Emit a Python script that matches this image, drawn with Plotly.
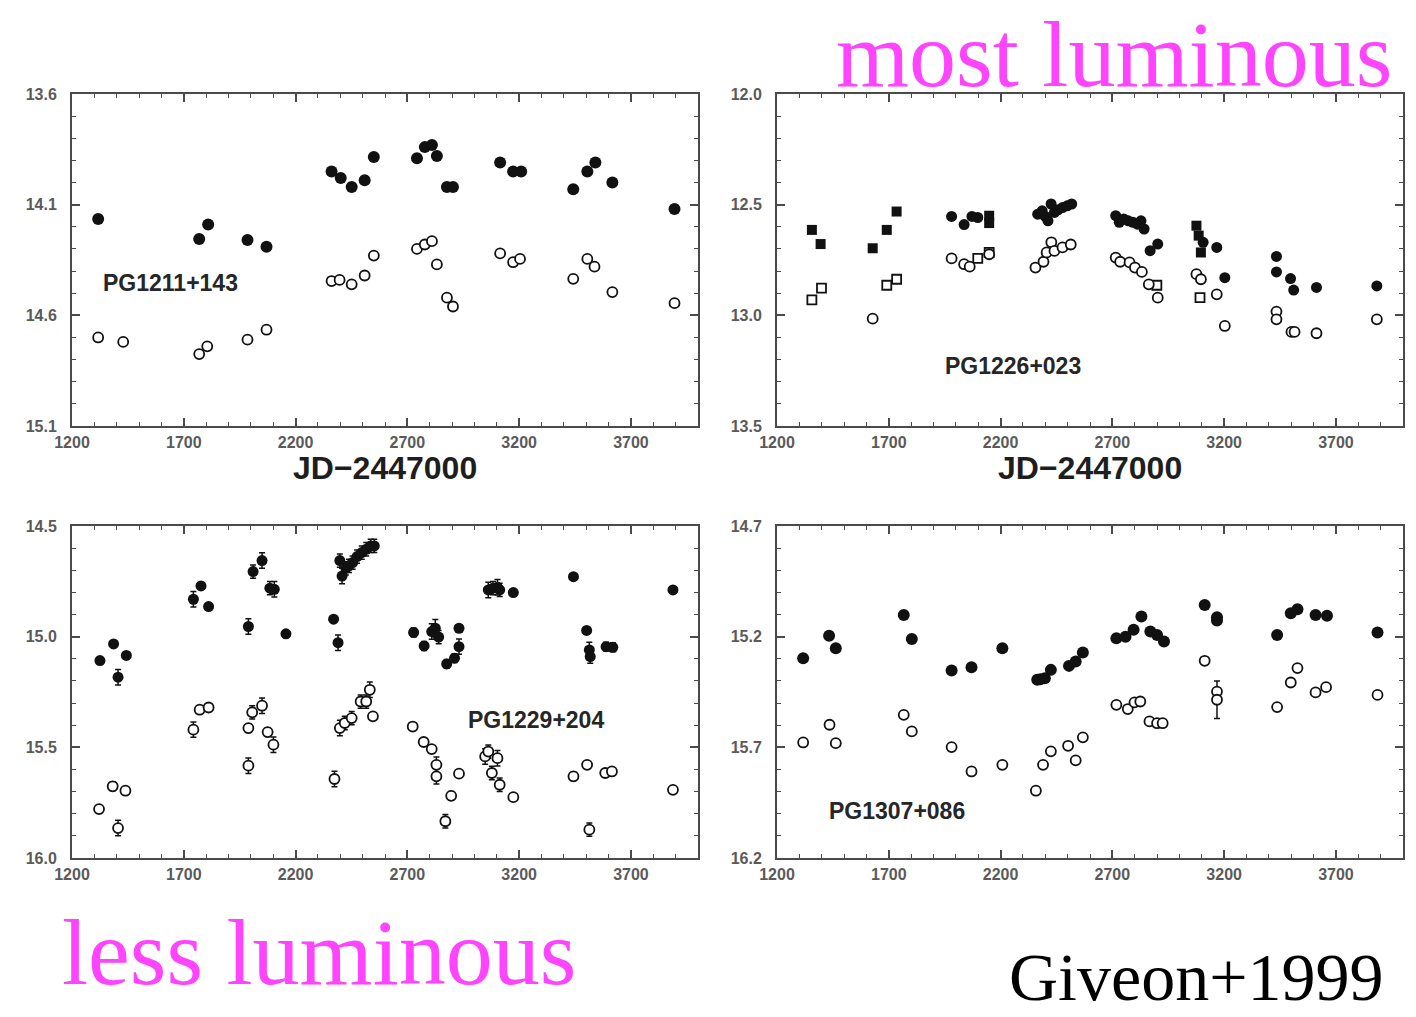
import plotly.graph_objects as go

# ---------------- data ----------------
# PG1211+143 (top-left)
p1_fill_x = [1317, 1769, 1809, 1985, 2070, 2361, 2402, 2451, 2509, 2550, 2743, 2778, 2810, 2832, 2877, 2904,
             3115, 3173, 3209, 3442, 3505, 3541, 3617, 3895]
p1_fill_y = [14.165, 14.255, 14.19, 14.26, 14.29, 13.95, 13.98, 14.02, 13.99, 13.885, 13.89, 13.84, 13.83, 13.88,
             14.02, 14.02, 13.91, 13.95, 13.95, 14.03, 13.95, 13.91, 14.0, 14.12]
p1_open_x = [1317, 1429, 1769, 1805, 1985, 2070, 2361, 2397, 2451, 2509, 2550, 2743, 2778, 2810, 2832, 2877, 2904,
             3115, 3173, 3204, 3442, 3505, 3537, 3617, 3895]
p1_open_y = [14.70, 14.72, 14.775, 14.74, 14.71, 14.665, 14.445, 14.44, 14.46, 14.42, 14.33, 14.30, 14.28, 14.265,
             14.37, 14.52, 14.56, 14.32, 14.36, 14.345, 14.435, 14.345, 14.38, 14.495, 14.545]

# PG1226+023 (top-right)
p2_fsq_x = [1356, 1395, 1628, 1691, 1735, 2149, 2149, 3076, 3086, 3096]
p2_fsq_y = [12.614, 12.678, 12.697, 12.614, 12.531, 12.55, 12.583, 12.595, 12.64, 12.716]
p2_fci_x = [1981, 2037, 2072, 2098, 2366, 2386, 2400, 2412, 2426, 2441, 2457, 2477, 2498, 2518,
            2715, 2731, 2751, 2771, 2792, 2812, 2828, 2842, 2869, 2903, 3106, 3167, 3203,
            3434, 3434, 3497, 3511, 3613, 3883]
p2_fci_y = [12.553, 12.59, 12.553, 12.558, 12.543, 12.528, 12.553, 12.573, 12.497, 12.535, 12.523, 12.513, 12.505,
            12.497, 12.55, 12.58, 12.565, 12.573, 12.58, 12.588, 12.573, 12.61, 12.708, 12.678, 12.67, 12.693, 12.83,
            12.734, 12.804, 12.834, 12.886, 12.874, 12.867]
p2_osq_x = [1356, 1399, 1691, 1735, 2098, 2149, 2899, 3092]
p2_osq_y = [12.93, 12.877, 12.864, 12.837, 12.743, 12.716, 12.864, 12.92]
p2_oci_x = [1628, 1981, 2037, 2062, 2149, 2356, 2392, 2406, 2427, 2441, 2477, 2514, 2715, 2735, 2777, 2801, 2832,
            2863, 2903, 3076, 3096, 3167, 3203, 3434, 3434, 3501, 3515, 3613, 3883]
p2_oci_y = [13.015, 12.743, 12.769, 12.78, 12.724, 12.784, 12.758, 12.716, 12.67, 12.709, 12.693, 12.68, 12.739,
            12.758, 12.761, 12.784, 12.804, 12.86, 12.92, 12.814, 12.837, 12.905, 13.048, 12.983, 13.018, 13.075,
            13.075, 13.081, 13.018]

# PG1229+204 (bottom-left)
p3_fill_x = [1325, 1386, 1406, 1443, 1743, 1777, 1811, 1989, 2010, 2050, 2085, 2105, 2157, 2370, 2390,
             2398, 2408, 2425, 2439, 2455, 2475, 2496, 2516, 2536, 2552,
             2728, 2775, 2809, 2825, 2840, 2876, 2911, 2931, 2931, 3062, 3083, 3103, 3113, 3174,
             3443, 3502, 3514, 3518, 3589, 3619, 3888]
p3_fill_y = [15.108, 15.033, 15.183, 15.085, 14.831, 14.771, 14.864, 14.954, 14.706, 14.656, 14.781, 14.786, 14.987,
             14.921, 15.027, 14.656, 14.726, 14.691, 14.68, 14.665, 14.638, 14.62, 14.605, 14.59, 14.59,
             14.981, 15.042, 14.977, 14.962, 15.002, 15.123, 15.097, 14.962, 15.045, 14.789, 14.781, 14.777,
             14.789, 14.801, 14.729, 14.972, 15.06, 15.09, 15.045, 15.048, 14.789]
p3_fill_err = [0.015, 0.01, 0.035, 0.01, 0.035, 0.015, 0.015, 0.035, 0.03, 0.035, 0.03, 0.035, 0.01, 0.01, 0.035,
               0.03, 0.035, 0.03, 0.03, 0.03, 0.03, 0.03, 0.03, 0.03, 0.03,
               0.02, 0.02, 0.035, 0.04, 0.03, 0.02, 0.02, 0.01, 0.035, 0.035, 0.03, 0.035, 0.03, 0.01,
               0.01, 0.01, 0.035, 0.03, 0.02, 0.02, 0.01]
p3_open_x = [1321, 1382, 1406, 1439, 1743, 1771, 1811, 1989, 1989, 2006, 2050, 2075, 2101, 2374, 2398, 2420, 2451,
             2491, 2516, 2532, 2546, 2724, 2773, 2809, 2830, 2830, 2870, 2896, 2931, 3048, 3062, 3078, 3103, 3113,
             3174, 3443, 3504, 3514, 3585, 3615, 3888]
p3_open_y = [15.779, 15.676, 15.865, 15.696, 15.42, 15.33, 15.32, 15.413, 15.583, 15.342, 15.312, 15.431, 15.488,
             15.643, 15.413, 15.39, 15.368, 15.293, 15.293, 15.24, 15.36, 15.406, 15.476, 15.508, 15.579, 15.631,
             15.834, 15.719, 15.619, 15.541, 15.519, 15.616, 15.549, 15.669, 15.725, 15.631, 15.579, 15.872,
             15.616, 15.609, 15.692]
p3_open_err = [0.015, 0.02, 0.035, 0.015, 0.035, 0.015, 0.015, 0.02, 0.035, 0.03, 0.035, 0.02, 0.035, 0.035, 0.035,
               0.03, 0.03, 0.03, 0.03, 0.035, 0.01, 0.01, 0.01, 0.01, 0.035, 0.035, 0.03, 0.02, 0.015, 0.035, 0.03,
               0.03, 0.035, 0.03, 0.015, 0.02, 0.01, 0.03, 0.015, 0.015, 0.01]

# PG1307+086 (bottom-right)
p4_fill_x = [1317, 1433, 1463, 1767, 1803, 1981, 2070, 2208, 2364, 2378, 2398, 2425, 2506, 2536, 2568,
             2718, 2759, 2795, 2830, 2870, 2900, 2931, 3113, 3168, 3168, 3437, 3498, 3528, 3609, 3660, 3886]
p4_fill_y = [15.297, 15.196, 15.252, 15.102, 15.211, 15.353, 15.338, 15.252, 15.395, 15.392, 15.388, 15.35, 15.332,
             15.312, 15.272, 15.207, 15.2, 15.169, 15.109, 15.177, 15.192, 15.222, 15.057, 15.112, 15.127, 15.192,
             15.094, 15.076, 15.102, 15.106, 15.181]
p4_open_x = [1317, 1435, 1463, 1767, 1803, 1981, 2070, 2208, 2358, 2390, 2425, 2502, 2536, 2568, 2718, 2769, 2799,
             2825, 2866, 2900, 2925, 3113, 3168, 3168, 3437, 3498, 3528, 3609, 3656, 3886]
p4_open_y = [15.678, 15.598, 15.681, 15.553, 15.628, 15.699, 15.809, 15.779, 15.896, 15.779, 15.718, 15.693, 15.759,
             15.655, 15.508, 15.527, 15.497, 15.493, 15.583, 15.591, 15.591, 15.309, 15.448, 15.485, 15.518, 15.407,
             15.342, 15.452, 15.428, 15.463]
p4_open_err = [0, 0, 0, 0, 0, 0, 0, 0, 0, 0, 0, 0, 0, 0, 0, 0, 0, 0, 0, 0, 0, 0, 0, 0.085, 0, 0, 0, 0, 0, 0]

panel_names = ["PG1211+143", "PG1226+023", "PG1229+204", "PG1307+086"]
panel_label_x = [1639, 2254, 3276, 1738]
panel_label_y = [14.454, 13.229, 15.377, 15.988]
y_ranges = [(13.6, 15.1), (12.0, 13.5), (14.5, 16.0), (14.7, 16.2)]
x_range = (1200, 4000)
x_title = "JD\u22122447000"

# ---------------- figure ----------------
W, H = 1416, 1017
AX = "#4a4a4a"
INK = "#111111"
fig = go.Figure()


def px(v):
    return v / W


def py(v):
    return 1 - v / H


domains = [
    ((72, 698), (94, 426)),
    ((777, 1403), (94, 426)),
    ((72, 698), (526, 858)),
    ((777, 1403), (526, 858)),
]


def ax_ids(axi):
    suffix = "" if axi == 1 else str(axi)
    return "x" + suffix, "y" + suffix


def add_err(axi, x, y, err):
    xa, ya = ax_ids(axi)
    xs = [a for a, e in zip(x, err) if e > 0]
    ys = [b for b, e in zip(y, err) if e > 0]
    es = [e for e in err if e > 0]
    fig.add_trace(go.Scatter(
        x=xs, y=ys, mode="markers", marker=dict(size=1, opacity=0), showlegend=False,
        xaxis=xa, yaxis=ya, hoverinfo="skip",
        error_y=dict(type="data", array=es, visible=True, color=INK, thickness=1.5, width=3)))


def add(axi, x, y, symbol, filled, size=12):
    xa, ya = ax_ids(axi)
    if filled:
        marker = dict(symbol=symbol, size=size, color=INK, line=dict(width=0))
    else:
        marker = dict(symbol=symbol, size=size, color="white", line=dict(width=1.8, color=INK))
    fig.add_trace(go.Scatter(x=x, y=y, mode="markers", marker=marker, showlegend=False,
                             xaxis=xa, yaxis=ya, hoverinfo="skip"))


add(1, p1_fill_x, p1_fill_y, "circle", True)
add(1, p1_open_x, p1_open_y, "circle", False, size=10)
add(2, p2_fsq_x, p2_fsq_y, "square", True, size=10)
add(2, p2_fci_x, p2_fci_y, "circle", True, size=11)
add(2, p2_osq_x, p2_osq_y, "square", False, size=9)
add(2, p2_oci_x, p2_oci_y, "circle", False, size=10)
add_err(3, p3_fill_x, p3_fill_y, p3_fill_err)
add_err(3, p3_open_x, p3_open_y, p3_open_err)
add(3, p3_fill_x, p3_fill_y, "circle", True, size=11)
add(3, p3_open_x, p3_open_y, "circle", False, size=10)
add_err(4, p4_open_x, p4_open_y, p4_open_err)
add(4, p4_fill_x, p4_fill_y, "circle", True)
add(4, p4_open_x, p4_open_y, "circle", False, size=10)

layout = dict(
    width=W, height=H, margin=dict(l=0, r=0, t=0, b=0, autoexpand=False),
    paper_bgcolor="white", plot_bgcolor="white", showlegend=False,
)
tickfont = dict(family="Liberation Sans, Arial, sans-serif", size=16, color="#5a5a5a", weight="bold")
for i, ((x0, x1), (y0, y1)) in enumerate(domains):
    n = i + 1
    s = "" if n == 1 else str(n)
    yr = y_ranges[i]
    layout["xaxis" + s] = dict(
        domain=[px(x0), px(x1)], anchor="y" + s, range=list(x_range), automargin=False,
        tick0=1200, dtick=500, ticks="inside", ticklen=8, tickwidth=1.5, tickcolor=AX,
        minor=dict(dtick=100, ticks="inside", ticklen=4, tickwidth=1.2, tickcolor=AX, showgrid=False),
        showline=True, linecolor=AX, linewidth=2, mirror="ticks", showgrid=False, zeroline=False,
        tickfont=tickfont, ticklabelstandoff=1,
    )
    layout["yaxis" + s] = dict(
        domain=[py(y1), py(y0)], anchor="x" + s, range=[yr[1], yr[0]], automargin=False,
        tick0=yr[0], dtick=0.5, tickformat=".1f", ticks="inside", ticklen=8, tickwidth=1.5, tickcolor=AX,
        minor=dict(dtick=0.1, ticks="inside", ticklen=4, tickwidth=1.2, tickcolor=AX, showgrid=False),
        showline=True, linecolor=AX, linewidth=2, mirror="ticks", showgrid=False, zeroline=False,
        tickfont=tickfont, ticklabelstandoff=10,
    )
fig.update_layout(**layout)

annotations = []
for i in range(4):
    xa, ya = ax_ids(i + 1)
    annotations.append(dict(
        x=panel_label_x[i], y=panel_label_y[i], xref=xa, yref=ya, text=panel_names[i],
        showarrow=False, font=dict(family="Liberation Sans, Arial, sans-serif", size=23, color="#262626",
                                   weight="bold"),
        xanchor="center", yanchor="middle"))

for cx in [385, 1090]:
    annotations.append(dict(
        x=px(cx), y=py(468), xref="paper", yref="paper", text=x_title, showarrow=False,
        font=dict(family="Liberation Sans, Arial, sans-serif", size=32, color="#1e1e1e", weight="bold"),
        xanchor="center", yanchor="middle"))

annotations.append(dict(x=px(1394), y=1, xref="paper", yref="paper", text="most luminous",
                        showarrow=False, font=dict(family="Liberation Serif, serif", size=94, color="#FF44FF"),
                        xanchor="right", yanchor="top"))
annotations.append(dict(x=px(60), y=py(952), xref="paper", yref="paper", text="less luminous",
                        showarrow=False, font=dict(family="Liberation Serif, serif", size=94, color="#FF44FF"),
                        xanchor="left", yanchor="middle"))
annotations.append(dict(x=px(1386), y=0, xref="paper", yref="paper", text="Giveon+1999",
                        showarrow=False, font=dict(family="Liberation Serif, serif", size=68, color="#000000"),
                        xanchor="right", yanchor="bottom"))
fig.update_layout(annotations=annotations)

fig.write_html("out.html")
